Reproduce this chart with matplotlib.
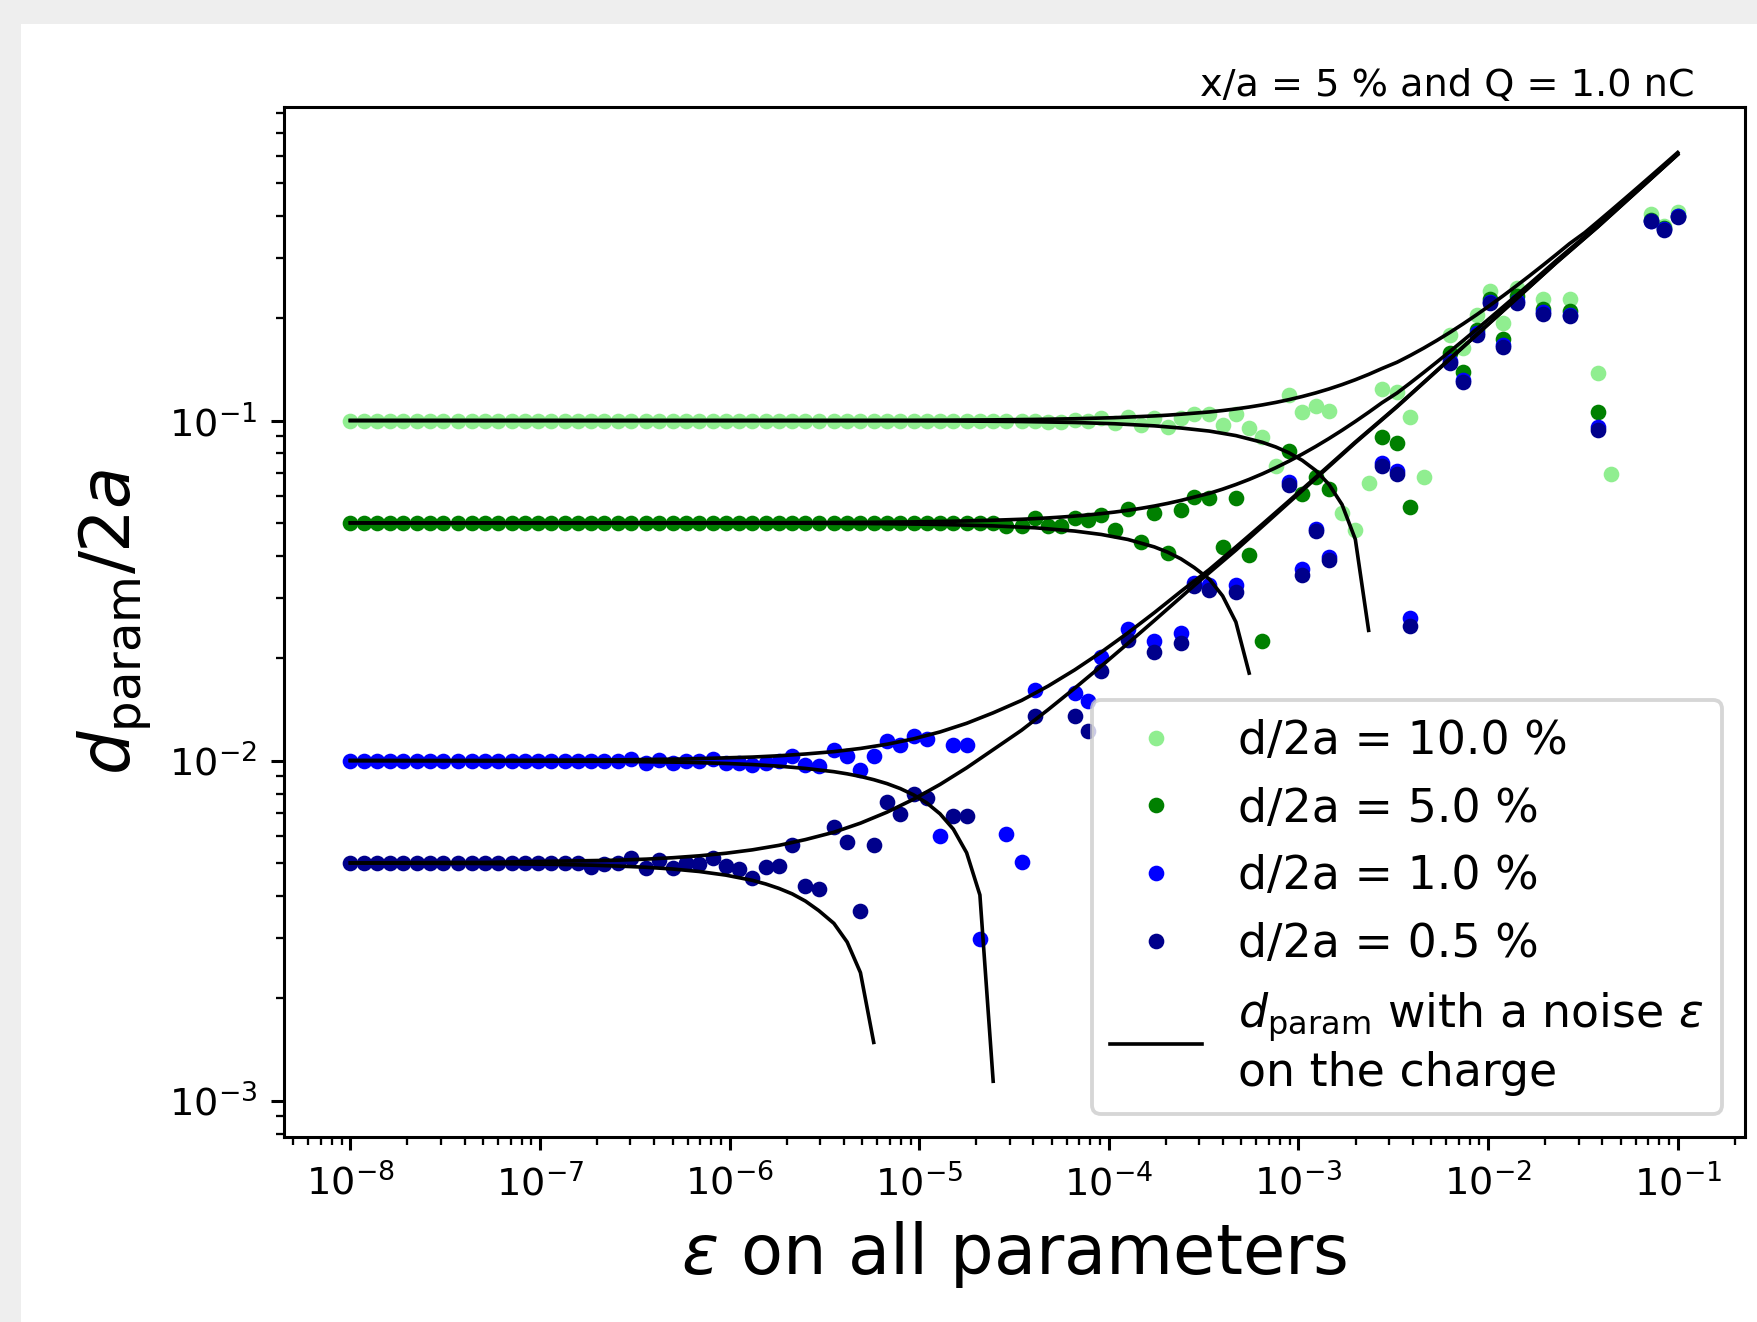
import numpy as np
import matplotlib
matplotlib.use("Agg")
import matplotlib.pyplot as plt
from matplotlib.patches import Rectangle

nan = np.nan

# log10 of the noise level epsilon (grid of the simulation)
eps_log = [-8.00, -7.93, -7.86, -7.79, -7.72, -7.65, -7.58, -7.51, -7.43, -7.36,
           -7.29, -7.22, -7.15, -7.08, -7.01, -6.94, -6.87, -6.80, -6.73, -6.66,
           -6.59, -6.52, -6.44, -6.37, -6.30, -6.23, -6.16, -6.09, -6.02, -5.95,
           -5.88, -5.81, -5.74, -5.67, -5.60, -5.53, -5.45, -5.38, -5.31, -5.24,
           -5.17, -5.10, -5.03, -4.96, -4.89, -4.82, -4.75, -4.68, -4.61, -4.54,
           -4.46, -4.39, -4.32, -4.25, -4.18, -4.11, -4.04, -3.97, -3.90, -3.83,
           -3.76, -3.69, -3.62, -3.55, -3.47, -3.40, -3.33, -3.26, -3.19, -3.12,
           -3.05, -2.98, -2.91, -2.84, -2.77, -2.70, -2.63, -2.56, -2.48, -2.41,
           -2.34, -2.27, -2.20, -2.13, -2.06, -1.99, -1.92, -1.85, -1.78, -1.71,
           -1.64, -1.57, -1.49, -1.42, -1.35, -1.28, -1.21, -1.14, -1.07, -1.00]

labels = ["d/2a = 10.0 %", "d/2a = 5.0 %", "d/2a = 1.0 %", "d/2a = 0.5 %"]
colors = ["lightgreen", "green", "blue", "darkblue"]

d_10 = [0.1] * 49 + [
    0.0995, 0.0995, 0.1, 0.0989, 0.0989, 0.1005, 0.1, 0.1018, 0.0984, 0.1027,
    0.0967, 0.1018, 0.0956, 0.1018, 0.1046, 0.1046, 0.0967, 0.1046, 0.0952, 0.0897,
    0.0737, 0.1192, 0.1058, 0.1107, 0.1070, 0.0536, 0.0475, 0.0653, 0.1242, 0.1211,
    0.1027, 0.0681, nan, 0.178, 0.163, 0.205, 0.241, 0.193, 0.246, nan,
    0.228, nan, 0.227, nan, 0.1375, 0.0698, nan, nan, 0.406, 0.374, 0.41]

d_5 = [0.05] * 49 + [
    0.0491, 0.0491, 0.0518, 0.0488, 0.0488, 0.0518, 0.0511, 0.0529, 0.0478, 0.0548,
    0.0438, 0.0536, 0.0409, 0.0544, 0.0594, 0.0590, 0.0426, 0.0590, 0.0401, 0.0224,
    nan, 0.0812, 0.0610, 0.0680, 0.0630, nan, nan, nan, 0.0892, 0.0857,
    0.0558, nan, nan, 0.158, 0.139, 0.185, 0.227, 0.174, 0.233, nan,
    0.213, nan, 0.210, nan, 0.106, nan, nan, nan, 0.39, 0.368, 0.40]

d_1 = [0.01] * 21 + [
    0.01014, 0.00983, 0.01005, 0.00987, 0.0100, 0.0100, 0.01014, 0.00984, 0.00984,
    0.00973, 0.00982, 0.00994, 0.01034, 0.00972, 0.00966, 0.01077, 0.01034, 0.00939,
    0.01034, 0.0114, 0.0111, 0.0118, 0.0116, 0.00602, 0.0111, 0.0111, 0.00299,
    nan, 0.00609, 0.00502, 0.0161, nan, nan, 0.0158, 0.0150, 0.0202,
    nan, 0.0244, nan, 0.0225, nan, 0.0238, 0.0332, 0.0329, nan,
    0.0329, nan, nan, nan, 0.066, 0.0366, 0.0481, 0.0396, nan,
    nan, nan, 0.075, 0.071, 0.0263, nan, nan, 0.150, 0.132,
    0.181, 0.223, 0.167, 0.224, nan, 0.208, nan, 0.205, nan,
    0.096, nan, nan, nan, 0.387, 0.366, 0.40]

d_05 = [0.005] * 18 + [
    0.00486, 0.00495, 0.00501, 0.00517, 0.00482, 0.00510, 0.00482, 0.0050, 0.00496,
    0.00518, 0.00490, 0.00479, 0.00450, 0.00487, 0.00490, 0.00563, 0.00428, 0.00419,
    0.00637, 0.00575, 0.00360, 0.00563, 0.00754, 0.00697, 0.00795, 0.00776, nan,
    0.00689, 0.00689, nan, nan, nan, nan, 0.0135, nan, nan,
    0.0135, 0.0122, 0.0183, nan, 0.0227, nan, 0.0208, nan, 0.0221,
    0.0327, 0.0318, nan, 0.0313, nan, nan, nan, 0.0647, 0.0352,
    0.0472, 0.0388, nan, nan, nan, 0.0735, 0.0698, 0.0248, nan,
    nan, 0.148, 0.130, 0.179, 0.221, 0.165, 0.222, nan, 0.206,
    nan, 0.203, nan, 0.094, nan, nan, nan, 0.385, 0.364, 0.398]

# d_param curves with noise on the charge (grid indices + values)
up_10_idx = [0, 10, 20, 25, 30, 33, 36, 39, 42, 45, 48, 51, 54, 57] + list(range(60, 100))
up_10 = [0.1, 0.1, 0.1, 0.1, 0.10002, 0.10004, 0.10006, 0.1001, 0.10017, 0.10028,
         0.10045, 0.10074, 0.1012, 0.10195,
         0.10316, 0.10370, 0.10435, 0.10510, 0.10597, 0.10699, 0.10818, 0.10956,
         0.11117, 0.11303, 0.11518, 0.11766, 0.12052, 0.12379, 0.12754, 0.13181,
         0.13666, 0.14217, 0.14838, 0.15538, 0.16322, 0.17200, 0.18179, 0.19267,
         0.20474, 0.21809, 0.23282, 0.24904, 0.26687, 0.28643, 0.30786, 0.33132,
         0.35695, 0.38493, 0.41546, 0.44873, 0.48496, 0.52441, 0.56733, 0.61400]

up_5_idx = [0, 10, 20, 25, 30, 33, 36, 39, 42, 45, 48] + list(range(50, 91)) + [93, 96, 99]
up_5 = [0.05, 0.05, 0.05, 0.05002, 0.05005, 0.05008, 0.05013, 0.05021, 0.05034, 0.05056,
        0.050901,
        0.051243, 0.051460, 0.051714, 0.052011, 0.052358, 0.052765, 0.053239, 0.053791,
        0.054434, 0.055181, 0.056047, 0.057049, 0.058207, 0.059541, 0.061073, 0.062828,
        0.064832, 0.067115, 0.069705, 0.072635, 0.075939, 0.079652, 0.083810, 0.088454,
        0.093624, 0.099365, 0.105722, 0.112745, 0.120486, 0.129003, 0.138355, 0.148610,
        0.159837, 0.172113, 0.185522, 0.200156, 0.216111, 0.233495, 0.252423, 0.273023,
        0.295431, 0.375061, 0.477166, 0.607865]

up_1_idx = [0, 10, 20, 25] + list(range(30, 71, 2)) + [72, 75, 78, 81, 84, 87, 90, 93, 96, 99]
up_1 = [0.010002, 0.010009, 0.010047, 0.010107,
        0.010240, 0.010330, 0.010455, 0.010625, 0.010855, 0.011167, 0.011585, 0.012140,
        0.012870, 0.013816, 0.015029, 0.016563, 0.018477, 0.020841, 0.023728, 0.027226,
        0.031433, 0.036468, 0.042464, 0.049586, 0.058024,
        0.068002, 0.086449, 0.110077, 0.140303, 0.178938, 0.228298, 0.291341, 0.371848,
        0.474644, 0.605888]

up_05_idx = [0, 10] + list(range(20, 61, 2)) + [63, 66, 69, 72, 75, 78, 81, 84, 87, 90, 93, 96, 99]
up_05 = [0.005004, 0.005019,
         0.0050943, 0.0051302, 0.0051794, 0.0052468, 0.0053387, 0.0054635, 0.0056318,
         0.0058568, 0.0061549, 0.0065454, 0.0070505, 0.0076954, 0.0085082, 0.0095200,
         0.010765, 0.012283, 0.014118, 0.016322, 0.018956, 0.022091, 0.025812,
         0.032712, 0.041572, 0.052924, 0.067448, 0.086014, 0.109736, 0.140035, 0.178728,
         0.228133, 0.291212, 0.371747, 0.474565, 0.605826]

lo_10_idx = [0, 30, 40, 45, 50, 54, 57, 60, 62, 64, 66, 68, 69, 70, 71, 72, 73, 74, 75, 76]
lo_10 = [0.1, 0.09997, 0.09987, 0.0997, 0.09932, 0.09868, 0.09784, 0.09646, 0.09506,
         0.0931, 0.0903, 0.08626, 0.08361, 0.08036, 0.07637, 0.07137, 0.0650, 0.05659,
         0.04472, 0.02415]
lo_5_idx = [0, 30, 36, 40, 44, 48, 51, 54, 56, 58, 60, 61, 62, 63, 64, 65, 66, 67]
lo_5 = [0.05, 0.04995, 0.04986, 0.04973, 0.04948, 0.0490, 0.04837, 0.04731, 0.04623,
        0.0447, 0.04249, 0.04101, 0.0392, 0.03696, 0.03416, 0.0305, 0.02555, 0.01808]
lo_1_idx = [0, 20, 25, 28, 30, 32, 34, 36, 37, 38, 39, 40, 41, 42, 43, 44, 45, 46, 47, 48]
lo_1 = [0.009998, 0.009948, 0.009883, 0.009808, 0.009734, 0.009629, 0.009482, 0.009275,
        0.009141, 0.008981, 0.008786, 0.008556, 0.008273, 0.007929, 0.007506, 0.006971,
        0.006285, 0.005357, 0.004025, 0.00114]
lo_05_idx = [0, 10, 15, 18, 20, 22, 24, 26, 28, 30, 31, 32, 33, 34, 35, 36, 37, 38, 39]
lo_05 = [0.004996, 0.00498, 0.004954, 0.004925, 0.004896, 0.004855, 0.004798, 0.004718,
         0.004604, 0.004444, 0.004337, 0.004208, 0.004055, 0.003861, 0.003622, 0.003321,
         0.002926, 0.002379, 0.001483]

title_text = "x/a = 5 % and Q = 1.0 nC"
curve_label = "$d_{\\mathrm{param}}$ with a noise $\\varepsilon$\non the charge"

# ---------------------------------------------------------------
W, H, DPI = 1757, 1322, 275
fig = plt.figure(figsize=(W / DPI, H / DPI), dpi=DPI)
fig.patch.set_facecolor("white")
fig.patches.append(Rectangle((0, 1 - 24 / H), 1, 24 / H, transform=fig.transFigure,
                             facecolor="#eeeeee", edgecolor="none", zorder=-5))
fig.patches.append(Rectangle((0, 0), 21 / W, 1, transform=fig.transFigure,
                             facecolor="#eeeeee", edgecolor="none", zorder=-5))

ax = fig.add_axes([284 / W, 1 - 1137 / H, (1745 - 284) / W, (1137 - 107) / H])

eps = 10.0 ** np.array(eps_log)
for vals, c, lab in zip([d_10, d_5, d_1, d_05], colors, labels):
    ax.plot(eps, vals, "o", color=c, markersize=4.1, markeredgewidth=0, label=lab)

curves = [(up_10_idx, up_10), (up_5_idx, up_5), (up_1_idx, up_1), (up_05_idx, up_05),
          (lo_10_idx, lo_10), (lo_5_idx, lo_5), (lo_1_idx, lo_1), (lo_05_idx, lo_05)]
for i, (idx, vals) in enumerate(curves):
    ax.plot(eps[np.array(idx)], vals, "-", color="black", lw=0.95,
            label=curve_label if i == 0 else None)

ax.set_xscale("log")
ax.set_yscale("log")
ax.set_xlim(10 ** -8.35, 10 ** -0.645)
ax.set_ylim(10 ** -3.107, 10 ** -0.078)

ax.set_xlabel("$\\varepsilon$ on all parameters", fontsize=18)
ax.set_ylabel("$d_{\\mathrm{param}}/2a$", fontsize=18)

handles, labs = ax.get_legend_handles_labels()
ax.legend(handles, labs, loc="lower right", fontsize=12)

fig.text(1695 / W, 1 - 96 / H, title_text, ha="right", va="baseline", fontsize=10)

fig.savefig("out.png", dpi=DPI)
